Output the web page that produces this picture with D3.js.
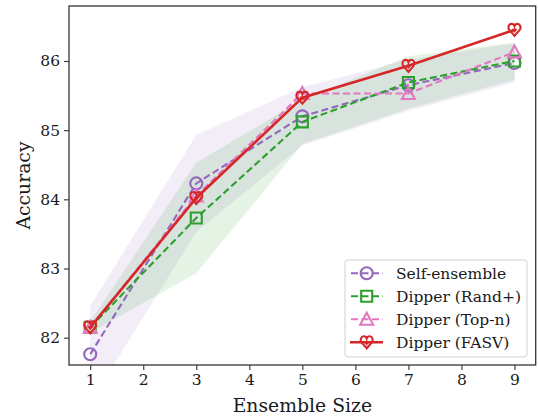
<!DOCTYPE html>
<html><head><meta charset="utf-8">
<script src="https://cdn.jsdelivr.net/npm/d3@7"></script>
<style>body{margin:0;background:#fff}svg{display:block}text{font-family:"DejaVu Serif",serif;fill:#1a1a1a}</style>
</head><body><svg id="c" width="538" height="418"></svg>
<script>
const ensembleSizes = [1, 3, 5, 7, 9];
const xTicks = [1, 2, 3, 4, 5, 6, 7, 8, 9];
const yTicks = [82, 83, 84, 85, 86];
const seriesNames = ["Self-ensemble", "Dipper (Rand+)", "Dipper (Top-n)", "Dipper (FASV)"];
const selfEnsemble = [81.76, 84.23, 85.2, 85.65, 85.97];
const selfEnsembleStd = [0.7, 0.7, 0.42, 0.37, 0.28];
const randPlus = [82.15, 83.73, 85.12, 85.69, 86.0];
const randPlusStd = [0.08, 0.8, 0.32, 0.38, 0.27];
const topN = [82.15, 84.05, 85.53, 85.53, 86.13];
const fasv = [82.15, 84.02, 85.47, 85.93, 86.45];

const colors = ["#9467bd", "#2ca02c", "#e377c2", "#d62728"];
const markers = ["circle", "square", "triangle", "heart"];
const dashes = ["7,3.5", "7,3.5", "7,3.5", null];
const allSeries = [selfEnsemble, randPlus, topN, fasv];
const bands = [[selfEnsemble, selfEnsembleStd, 0], [randPlus, randPlusStd, 1]];

const svg = d3.select("#c");
const L = 69, R = 535.7, T = 6, B = 365;
const x = d3.scaleLinear().domain([0.6, 9.4]).range([L, R]);
const y = d3.scaleLinear().domain([81.605, 86.795]).range([B, T]);

svg.append("clipPath").attr("id", "clip").append("rect").attr("x", L).attr("y", T).attr("width", R - L).attr("height", B - T);
bands.forEach(([m, s, ci]) => {
  const area = d3.area().x((d, i) => x(ensembleSizes[i])).y0((d, i) => y(m[i] - s[i])).y1((d, i) => y(m[i] + s[i]));
  svg.append("path").attr("d", area(m)).attr("fill", colors[ci]).attr("fill-opacity", 0.12).attr("clip-path", "url(#clip)");
});

function markerPath(type) {
  if (type === "circle") return "M6,0A6,6 0 1,1 -6,0A6,6 0 1,1 6,0Z";
  if (type === "square") return "M-5.5,-5.5H5.5V5.5H-5.5Z";
  if (type === "triangle") return "M0,-6.5L6.5,5.5H-6.5Z";
  return "M0,6 L-5,0.3 C-7.2,-2.2 -5.6,-6.2 -2.6,-6 C-1.2,-5.9 -0.3,-4.9 0,-3.8 C0.3,-4.9 1.2,-5.9 2.6,-6 C5.6,-6.2 7.2,-2.2 5,0.3 Z M-2,-1 L0,1.5 L2,-1";
}

const line = d3.line().x((d, i) => x(ensembleSizes[i])).y(d => y(d));
allSeries.forEach((vals, si) => {
  const g = svg.append("g");
  g.append("path").attr("d", line(vals)).attr("fill", "none").attr("stroke", colors[si])
    .attr("stroke-width", si === 3 ? 2.6 : 2.1).attr("stroke-dasharray", dashes[si]);
  g.selectAll("path.m").data(vals).join("path").attr("class", "m")
    .attr("transform", (d, i) => `translate(${x(ensembleSizes[i])},${y(d)})`)
    .attr("d", markerPath(markers[si])).attr("fill", "none").attr("stroke", colors[si]).attr("stroke-width", 2.1);
});

const xa = svg.append("g").attr("transform", `translate(0,${B})`).call(d3.axisBottom(x).tickValues(xTicks).tickFormat(d3.format("d")).tickSize(5).tickPadding(4));
const ya = svg.append("g").attr("transform", `translate(${L},0)`).call(d3.axisLeft(y).tickValues(yTicks).tickFormat(d3.format("d")).tickSize(5).tickPadding(4));
[xa, ya].forEach(a => {
  a.select(".domain").remove();
  a.selectAll("line").attr("stroke", "#333").attr("stroke-width", 1.1);
  a.selectAll("text").attr("font-size", 15.5).attr("font-family", "DejaVu Serif").attr("fill", "#1a1a1a");
});
svg.append("rect").attr("x", L).attr("y", T).attr("width", R - L).attr("height", B - T)
  .attr("fill", "none").attr("stroke", "#333").attr("stroke-width", 1.3);

svg.append("text").attr("x", (L + R) / 2).attr("y", 412).attr("text-anchor", "middle").attr("font-size", 18.8).text("Ensemble Size");
svg.append("text").attr("transform", `translate(30,${(T + B) / 2}) rotate(-90)`).attr("text-anchor", "middle").attr("font-size", 18.8).text("Accuracy");

const lg = svg.append("g");
lg.append("rect").attr("x", 345).attr("y", 260).attr("width", 182).attr("height", 97).attr("rx", 3)
  .attr("fill", "#fff").attr("fill-opacity", 0.85).attr("stroke", "#d0d0d0").attr("stroke-width", 1);
seriesNames.forEach((n, i) => {
  const cy = 273.3 + i * 23;
  lg.append("line").attr("x1", 350).attr("x2", 383).attr("y1", cy).attr("y2", cy).attr("stroke", colors[i])
    .attr("stroke-width", i === 3 ? 2.6 : 2.1).attr("stroke-dasharray", i === 3 ? null : "7,3.5").attr("stroke-dashoffset", i === 3 ? 0 : -1);
  lg.append("path").attr("transform", `translate(366.7,${cy})`).attr("d", markerPath(markers[i]))
    .attr("fill", "none").attr("stroke", colors[i]).attr("stroke-width", 2.1);
  lg.append("text").attr("x", 396).attr("y", cy + 5.5).attr("font-size", 15.5).text(n);
});
</script></body></html>
